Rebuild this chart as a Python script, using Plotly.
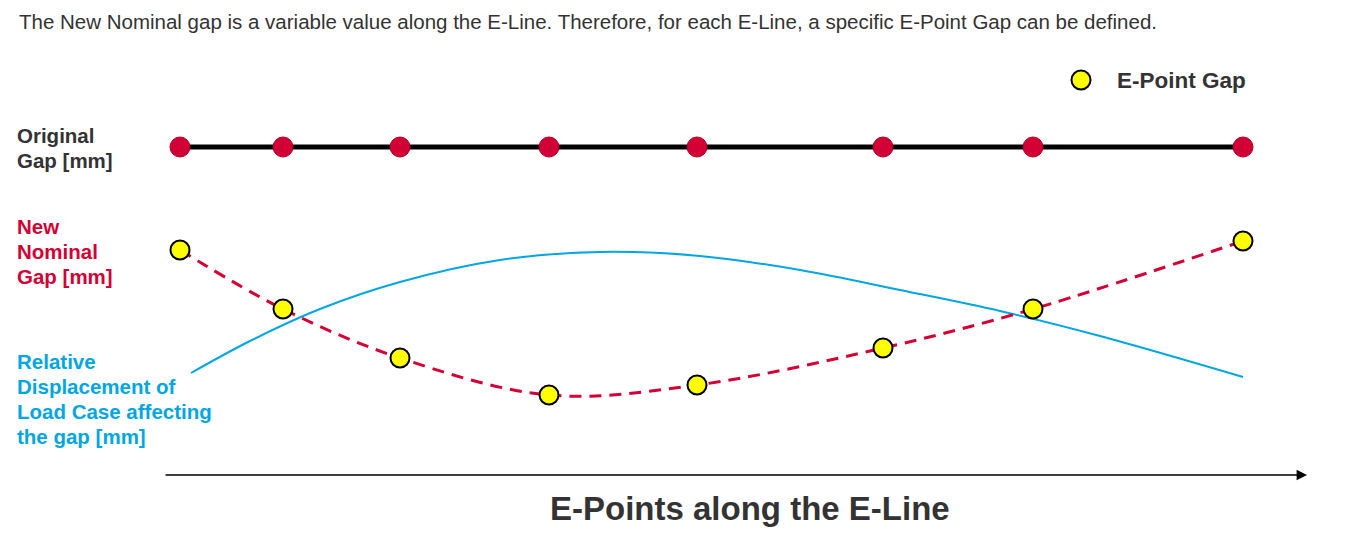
import plotly.graph_objects as go

# E-point positions along the E-Line (horizontal units)
epoint_x = [180, 283, 400, 549, 697, 883, 1033, 1243]
# Original gap (constant) level
original_gap = [147, 147, 147, 147, 147, 147, 147, 147]
# New nominal gap at each E-point
new_nominal_gap = [250, 309, 358, 395, 385, 348, 309, 241]
# Relative displacement curve of load case
disp_x = [191, 250, 320, 400, 500, 600, 700, 800, 900, 1000, 1100, 1243]
disp_y = [373, 341, 309, 282, 260, 252, 256, 270, 290, 311, 336, 377]

# side labels (one entry per text line)
label_lines = ["Original", "Gap [mm]",
               "New", "Nominal", "Gap [mm]",
               "Relative", "Displacement of", "Load Case affecting", "the gap [mm]"]
label_y = [135, 160, 226, 251, 276, 361, 386, 411, 436]
label_group = ["orig", "orig", "new", "new", "new", "disp", "disp", "disp", "disp"]

RED = "#d20034"
BLUE = "#00a6e2"
DARK = "#333333"
FONT = "Liberation Sans, Arial, sans-serif"
OFF = 8  # page body margin
group_color = {"orig": DARK, "new": RED, "disp": BLUE}

fig = go.Figure()

fig.add_trace(go.Scatter(
    x=disp_x, y=disp_y, mode="lines",
    line=dict(color=BLUE, width=2, shape="spline", smoothing=1.0),
    hoverinfo="skip", showlegend=False))

fig.add_trace(go.Scatter(
    x=epoint_x, y=original_gap, mode="lines+markers",
    line=dict(color="black", width=5),
    marker=dict(size=20, color=RED, line=dict(color="#b0002a", width=1)),
    hoverinfo="skip", showlegend=False))

fig.add_trace(go.Scatter(
    x=epoint_x, y=new_nominal_gap, mode="lines",
    line=dict(color=RED, width=3, dash="12px,8px", shape="spline", smoothing=1.0),
    hoverinfo="skip", showlegend=False))

fig.add_trace(go.Scatter(
    x=epoint_x, y=new_nominal_gap, mode="markers",
    marker=dict(size=19, color="#ffff00", line=dict(color="black", width=2)),
    hoverinfo="skip", showlegend=False))

# legend marker
fig.add_trace(go.Scatter(
    x=[1081], y=[80], mode="markers",
    marker=dict(size=19, color="#ffff00", line=dict(color="black", width=2)),
    hoverinfo="skip", showlegend=False))

ann = []
ann.append(dict(x=17, y=21, xref="x", yref="y", xanchor="left", yanchor="middle",
                text="The New Nominal gap is a variable value along the E-Line. Therefore, for each E-Line, a specific E-Point Gap can be defined.",
                font=dict(family=FONT, size=20.5, color=DARK), showarrow=False))
ann.append(dict(x=1115, y=80, xref="x", yref="y", xanchor="left", yanchor="middle",
                text="<b>E-Point Gap</b>", font=dict(family=FONT, size=22.5, color=DARK), showarrow=False))
for txt, yy, g in zip(label_lines, label_y, label_group):
    ann.append(dict(x=15, y=yy, xref="x", yref="y", xanchor="left", yanchor="middle",
                    text="<b>" + txt + "</b>", font=dict(family=FONT, size=20.5, color=group_color[g]),
                    showarrow=False))
ann.append(dict(x=750, y=508, xref="x", yref="y", xanchor="center", yanchor="middle",
                text="<b>E-Points along the E-Line</b>", font=dict(family=FONT, size=33, color=DARK),
                showarrow=False))
# axis arrow
ann.append(dict(x=1307, y=475, ax=164, ay=475, xref="x", yref="y", axref="x", ayref="y",
                text="", showarrow=True, arrowhead=2, arrowsize=1.3, arrowwidth=1.6,
                arrowcolor="black"))

fig.update_layout(
    width=1367 - OFF, height=546 - OFF,
    margin=dict(l=0, r=0, t=0, b=0),
    paper_bgcolor="white", plot_bgcolor="white",
    xaxis=dict(range=[OFF, 1367], visible=False, fixedrange=True),
    yaxis=dict(range=[546, OFF], visible=False, fixedrange=True),
    annotations=ann,
    showlegend=False,
)

fig.write_html("out.html")
